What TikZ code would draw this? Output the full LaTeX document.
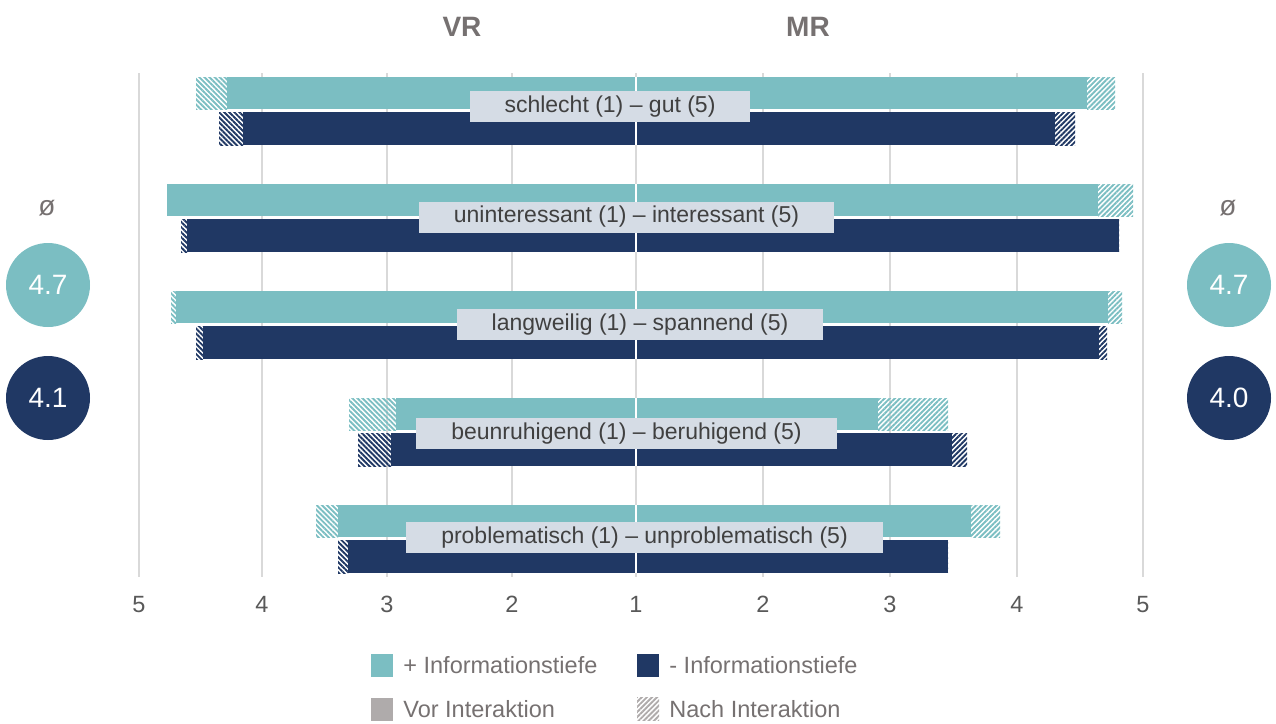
\documentclass[tikz,border=0pt]{standalone}
\usepackage{fontspec}
\setmainfont{Liberation Sans}
\usetikzlibrary{patterns.meta,positioning}
\definecolor{tealbar}{HTML}{7BBEC2}
\definecolor{navybar}{HTML}{203864}
\definecolor{lblfill}{HTML}{D5DCE5}
\definecolor{lbltext}{HTML}{404040}
\definecolor{gridgray}{HTML}{D9D9D9}
\definecolor{headgray}{HTML}{767171}
\definecolor{tickgray}{HTML}{595959}
\definecolor{keygray}{HTML}{AFABAB}

\begin{document}
\begin{tikzpicture}[
			x=1pt, y=-1pt,
			HatchL/.style = {pattern={Lines[angle=-45,distance=3.6pt,line width=1.9pt]},% hatching on the VR side
				pattern color=#1},
			HatchR/.style = {pattern={Lines[angle=45,distance=3.6pt,line width=1.9pt]},% hatching on the MR side
				pattern color=#1},
			Lbl/.style = {fill=lblfill, text=lbltext, inner xsep=35pt, inner ysep=0pt,
				minimum height=31pt, font=\fontsize{23}{27}\selectfont},
			Tick/.style = {anchor=base, text=tickgray, font=\fontsize{23.5}{28}\selectfont},
			Head/.style = {anchor=base, text=headgray, font=\fontsize{28}{32}\selectfont\bfseries},
			Avg/.style = {circle, fill=#1, minimum size=84pt, inner sep=0pt, text=white,
				font=\fontsize{28}{32}\selectfont},
			Key/.style = {rectangle, minimum width=22pt, minimum height=23pt, inner sep=0pt},
			KeyText/.style = {right=10pt of #1, inner sep=0pt, text=headgray,
				font=\fontsize{23.5}{28}\selectfont},
			]
			\useasboundingbox (0,0) rectangle (1276,723);
			% grid
			\foreach \gx in {139,262,387,512,636,763,890,1017,1143}
			\draw[gridgray, line width=1.5pt] (\gx,73) -- (\gx,577);
			% bars: top / teal hatch, teal solid, navy hatch, navy solid (VR) / teal solid, teal hatch, navy solid, navy hatch (MR)
			\foreach \yy/\tlh/\tls/\nlh/\nls/\trs/\trh/\nrs/\nrh in {
				77/196/227/219/243/1087/1115/1055/1075,
				184/167/167/181/187/1098/1133/1119/1119,
				291/171/176/196/203/1108/1122/1099/1107,
				398/349/396/358/391/878/948/952/967,
				505/316/338/338/348/971/1000/948/948}{
				\fill[tealbar] (\tls,\yy) rectangle (\trs,\yy+32);
				\path[HatchL=tealbar] (\tlh,\yy) rectangle (\tls,\yy+32);
				\path[HatchR=tealbar] (\trs,\yy) rectangle (\trh,\yy+32);
				\fill[navybar] (\nls,\yy+35) rectangle (\nrs,\yy+68);
				\path[HatchL=navybar] (\nlh,\yy+35) rectangle (\nls,\yy+68);
				\path[HatchR=navybar] (\nrs,\yy+35) rectangle (\nrh,\yy+68);
				\draw[white, line width=1.2pt] (636,\yy) -- (636,\yy+68);
			}
			% item labels
			\node[Lbl] (lbl-1) at (610,106.5) {schlecht (1) – gut (5)};
			\node[Lbl] (lbl-2) at (626.5,217) {uninteressant (1) – interessant (5)};
			\node[Lbl] (lbl-3) at (640,324.5) {langweilig (1) – spannend (5)};
			\node[Lbl] (lbl-4) at (626.5,433.5) {beunruhigend (1) – beruhigend (5)};
			\node[Lbl] (lbl-5) at (644.5,537.5) {problematisch (1) – unproblematisch (5)};
			% axis
			\foreach \gx/\t [count=\i] in {139/5,262/4,387/3,512/2,636/1,763/2,890/3,1017/4,1143/5}
			\node[Tick] (tick-\i) at (\gx,612) {\t};
			\node[Head] (headVR) at (462,36) {VR};
			\node[Head] (headMR) at (808,36) {MR};
			% averages
			\node[text=headgray, font=\fontsize{28}{32}\selectfont] (avgVR) at (47,208) {ø};
			\node[text=headgray, font=\fontsize{28}{32}\selectfont] (avgMR) at (1228,208) {ø};
			\node[Avg=tealbar] (avgVRplus) at (48,285) {4.7};
			\node[Avg=navybar] (avgVRminus) at (48,398) {4.1};
			\node[Avg=tealbar] (avgMRplus) at (1229,285) {4.7};
			\node[Avg=navybar] (avgMRminus) at (1229,398) {4.0};
			% legend
			\node[Key, fill=tealbar] (key-1) at (382,665) {};
			\node[KeyText=key-1] (keytext-1) {+ Informationstiefe};
			\node[Key, fill=navybar] (key-2) at (648,665) {};
			\node[KeyText=key-2] (keytext-2) {- Informationstiefe};
			\node[Key, fill=keygray] (key-3) at (382,709) {};
			\node[KeyText=key-3] (keytext-3) {Vor Interaktion};
			\node[Key, HatchR=keygray] (key-4) at (648,709) {};
			\node[KeyText=key-4] (keytext-4) {Nach Interaktion};
		\end{tikzpicture}
\end{document}
